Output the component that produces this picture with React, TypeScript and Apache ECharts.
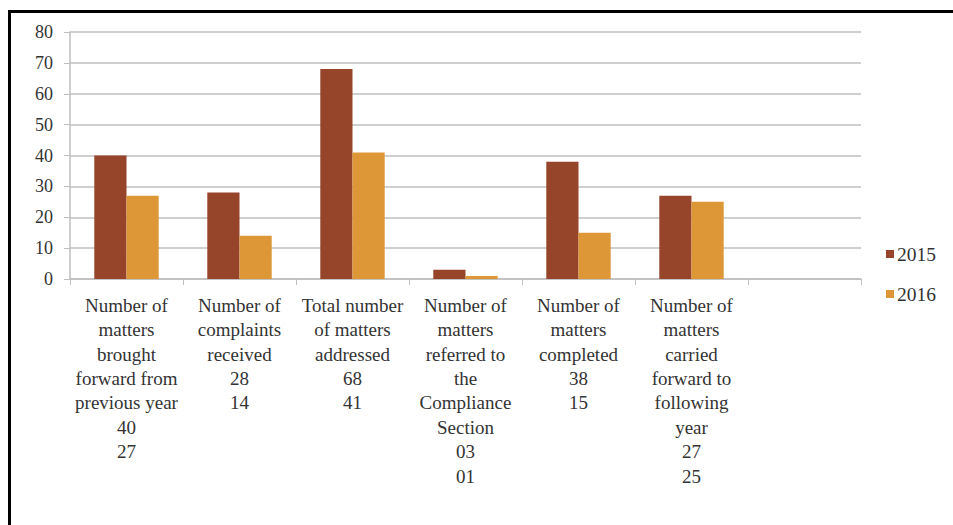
import React, { useEffect, useRef } from "react";
import * as echarts from "echarts";

const categories = [
  "Number of\nmatters\nbrought\nforward from\nprevious year",
  "Number of\ncomplaints\nreceived",
  "Total number\nof matters\naddressed",
  "Number of\nmatters\nreferred to\nthe\nCompliance\nSection",
  "Number of\nmatters\ncompleted",
  "Number of\nmatters\ncarried\nforward to\nfollowing\nyear",
  "",
];
const series2015 = [40, 28, 68, 3, 38, 27, null];
const series2016 = [27, 14, 41, 1, 15, 25, null];
const seriesNames = ["2015", "2016"];
const yTicks = [0, 10, 20, 30, 40, 50, 60, 70, 80];

const FONT = "Times New Roman, Liberation Serif, DejaVu Serif, serif";

export default function App() {
  const ref = useRef<HTMLDivElement>(null);
  useEffect(() => {
    document.body.style.margin = "0";
    const chart = echarts.init(ref.current!, null, { renderer: "svg" });
    const fmt = (v: number | null) => (v == null ? "" : String(v).padStart(2, "0"));
    chart.setOption({
      animation: false,
      backgroundColor: "#ffffff",
      textStyle: { fontFamily: FONT },
      graphic: [
        { type: "line", shape: { x1: 9.5, y1: 11.5, x2: 9.5, y2: 530 }, style: { stroke: "#000", lineWidth: 3 } },
        { type: "line", shape: { x1: 8, y1: 11.5, x2: 960, y2: 11.5 }, style: { stroke: "#000", lineWidth: 3 } },
      ],
      legend: {
        orient: "vertical",
        left: 881,
        top: 239,
        itemWidth: 8,
        itemHeight: 8,
        itemGap: 20,
        icon: "rect",
        textStyle: { fontFamily: FONT, fontSize: 19.5, color: "#333", padding: [0, 0, 0, -2] },
        data: seriesNames,
      },
      grid: { left: 70, right: 92, top: 32, bottom: 246, containLabel: false },
      xAxis: {
        type: "category",
        data: categories,
        axisLine: { lineStyle: { color: "#bfbfbf", width: 1.5 } },
        axisTick: { show: true, length: 6, lineStyle: { color: "#bfbfbf" } },
        axisLabel: {
          interval: 0,
          margin: 14,
          fontFamily: FONT,
          fontSize: 19,
          lineHeight: 24.4,
          color: "#333",
          formatter: (val: string, idx: number) => {
            if (!val) return "";
            return val + "\n" + fmt(series2015[idx]) + "\n" + fmt(series2016[idx]);
          },
        },
      },
      yAxis: {
        type: "value",
        min: yTicks[0],
        max: yTicks[yTicks.length - 1],
        interval: 10,
        axisLine: { show: true, lineStyle: { color: "#bfbfbf", width: 1.5 } },
        axisTick: { show: true, length: 6, lineStyle: { color: "#bfbfbf" } },
        axisLabel: { fontFamily: FONT, fontSize: 18, color: "#333", margin: 17 },
        splitLine: { lineStyle: { color: "#bfbfbf", width: 1.5 } },
      },
      series: [
        {
          name: seriesNames[0],
          type: "bar",
          data: series2015,
          itemStyle: { color: "#96452b" },
          barGap: "0%",
          barCategoryGap: "43%",
        },
        {
          name: seriesNames[1],
          type: "bar",
          data: series2016,
          itemStyle: { color: "#dd9737" },
          barGap: "0%",
          barCategoryGap: "43%",
        },
      ],
    });
    return () => chart.dispose();
  }, []);
  return <div ref={ref} style={{ width: 953, height: 525 }} />;
}
